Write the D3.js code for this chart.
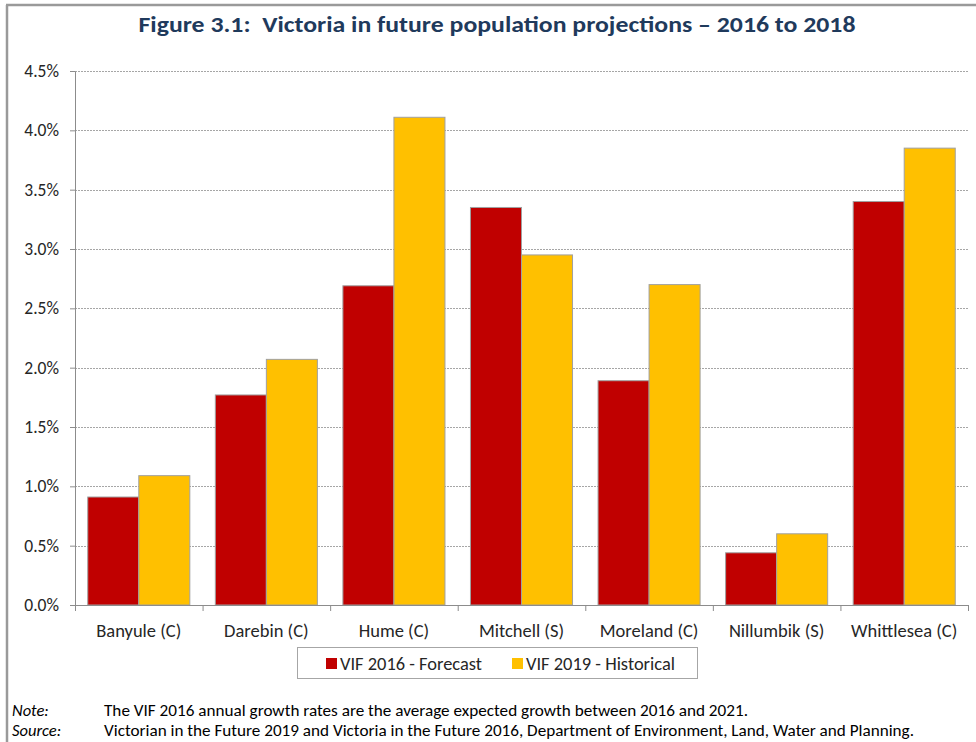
<!DOCTYPE html>
<html>
<head>
<meta charset="utf-8">
<script src="https://cdn.jsdelivr.net/npm/d3@7"></script>
<style>
  html, body { margin: 0; padding: 0; background: #fff; }
  svg { display: block; }
  text { font-family: Carlito, Calibri, Lato, "Liberation Sans", sans-serif; }
</style>
</head>
<body>
<svg id="chart" width="976" height="742"></svg>
<script>
// Council areas along the x axis
const categories = ["Banyule (C)", "Darebin (C)", "Hume (C)", "Mitchell (S)", "Moreland (C)", "Nillumbik (S)", "Whittlesea (C)"];
// Annual population growth rate, percent
const vif2016Forecast = [0.91, 1.77, 2.69, 3.35, 1.89, 0.44, 3.40];
const vif2019Historical = [1.09, 2.07, 4.11, 2.95, 2.70, 0.60, 3.85];
const seriesNames = ["VIF 2016 - Forecast", "VIF 2019 - Historical"];
const seriesColors = ["#C00000", "#FFC000"];
const yTicks = [0, 0.5, 1.0, 1.5, 2.0, 2.5, 3.0, 3.5, 4.0, 4.5];

const titleText = "Figure 3.1:  Victoria in future population projections \u2013 2016 to 2018";
const noteLabel = "Note:";
const noteText = "The VIF 2016 annual growth rates are the average expected growth between 2016 and 2021.";
const sourceLabel = "Source:";
const sourceText = "Victorian in the Future 2019 and Victoria in the Future 2016, Department of Environment, Land, Water and Planning.";

const svg = d3.select("#chart");
const plot = { left: 75, right: 968, top: 71, bottom: 605 };
const textColor = "#262626";

// Frame along the top and left edges
svg.append("line").attr("x1", 6).attr("x2", 976).attr("y1", 5).attr("y2", 5)
  .attr("stroke", "#9a9a9a").attr("stroke-width", 2.5);
svg.append("line").attr("x1", 7).attr("x2", 7).attr("y1", 5).attr("y2", 742)
  .attr("stroke", "#9a9a9a").attr("stroke-width", 2.5);

// Title
svg.append("text")
  .attr("x", 497).attr("y", 32)
  .attr("text-anchor", "middle")
  .attr("font-size", 22).attr("font-weight", "bold")
  .attr("fill", "#1F3A5C")
  .style("white-space", "pre")
  .attr("textLength", 717).attr("lengthAdjust", "spacingAndGlyphs")
  .text(titleText);

const y = d3.scaleLinear().domain([0, 4.5]).range([plot.bottom, plot.top]);
const x0 = d3.scaleBand().domain(categories).range([plot.left, plot.right]).padding(0);
const bw = x0.bandwidth();
const x1 = d3.scaleBand().domain(seriesNames).range([bw * 0.1, bw * 0.9]).padding(0);

// Dashed gridlines
svg.append("g")
  .selectAll("line")
  .data(yTicks.filter(t => t > 0))
  .join("line")
  .attr("x1", plot.left).attr("x2", plot.right)
  .attr("y1", d => Math.round(y(d)) + 0.5).attr("y2", d => Math.round(y(d)) + 0.5)
  .attr("stroke", "#a6a6a6").attr("stroke-width", 1)
  .attr("stroke-dasharray", "2,1");

// Bars
const rows = categories.map((c, i) => ({ c, vals: [vif2016Forecast[i], vif2019Historical[i]] }));
svg.append("g")
  .selectAll("g")
  .data(rows)
  .join("g")
  .attr("transform", d => `translate(${x0(d.c)},0)`)
  .selectAll("rect")
  .data(d => d.vals.map((v, k) => ({ v, k })))
  .join("rect")
  .attr("x", d => x1(seriesNames[d.k]))
  .attr("y", d => y(d.v))
  .attr("width", x1.bandwidth())
  .attr("height", d => y(0) - y(d.v))
  .attr("fill", d => seriesColors[d.k])
  .attr("stroke", "#a0a0a0").attr("stroke-width", 1);

// Y axis
const yAxis = svg.append("g")
  .attr("transform", `translate(${plot.left},0)`)
  .call(d3.axisLeft(y).tickValues(yTicks).tickSize(5).tickSizeOuter(0).tickPadding(11)
    .tickFormat(d => d.toFixed(1) + "%"));
yAxis.select(".domain").attr("stroke", "#8c8c8c");
yAxis.selectAll(".tick line").attr("stroke", "#8c8c8c");
yAxis.selectAll(".tick text").attr("font-size", 17.5).attr("fill", textColor)
  .style("font-family", "Carlito, Calibri, Lato, sans-serif");

// X axis with ticks at category boundaries
const xAxis = svg.append("g").attr("transform", `translate(0,${plot.bottom})`);
xAxis.append("line").attr("x1", plot.left).attr("x2", plot.right).attr("y1", 0.5).attr("y2", 0.5)
  .attr("stroke", "#8c8c8c");
xAxis.selectAll(".bound")
  .data(categories.map(c => x0(c)).concat([plot.right]))
  .join("line")
  .attr("class", "bound")
  .attr("x1", d => d + 0.5).attr("x2", d => d + 0.5)
  .attr("y1", 0).attr("y2", 6)
  .attr("stroke", "#8c8c8c");
xAxis.selectAll(".cat")
  .data(categories)
  .join("text")
  .attr("class", "cat")
  .attr("x", d => x0(d) + bw / 2)
  .attr("y", 32)
  .attr("text-anchor", "middle")
  .attr("font-size", 18.5).attr("fill", textColor)
  .text(d => d);

// Legend
const legend = svg.append("g");
legend.append("rect").attr("x", 297.5).attr("y", 647.5).attr("width", 400).attr("height", 31)
  .attr("fill", "#fff").attr("stroke", "#a6a6a6");
const legendX = [326, 512];
const legendW = [142, 149];
seriesNames.forEach((name, k) => {
  legend.append("rect").attr("x", legendX[k]).attr("y", 658).attr("width", 11).attr("height", 11)
    .attr("fill", seriesColors[k]);
  legend.append("text").attr("x", legendX[k] + 14).attr("y", 670)
    .attr("font-size", 18).attr("fill", textColor)
    .attr("textLength", legendW[k]).attr("lengthAdjust", "spacingAndGlyphs")
    .text(name);
});

// Footnotes
const notes = [[noteLabel, noteText, 716, 644], [sourceLabel, sourceText, 736, 810]];
notes.forEach(([label, txt, yy, w]) => {
  svg.append("text").attr("x", 12).attr("y", yy).attr("font-size", 16.5)
    .attr("font-style", "italic").attr("fill", "#000").text(label);
  svg.append("text").attr("x", 104).attr("y", yy).attr("font-size", 16.5)
    .attr("fill", "#000")
    .attr("textLength", w).attr("lengthAdjust", "spacingAndGlyphs")
    .text(txt);
});
</script>
</body>
</html>
